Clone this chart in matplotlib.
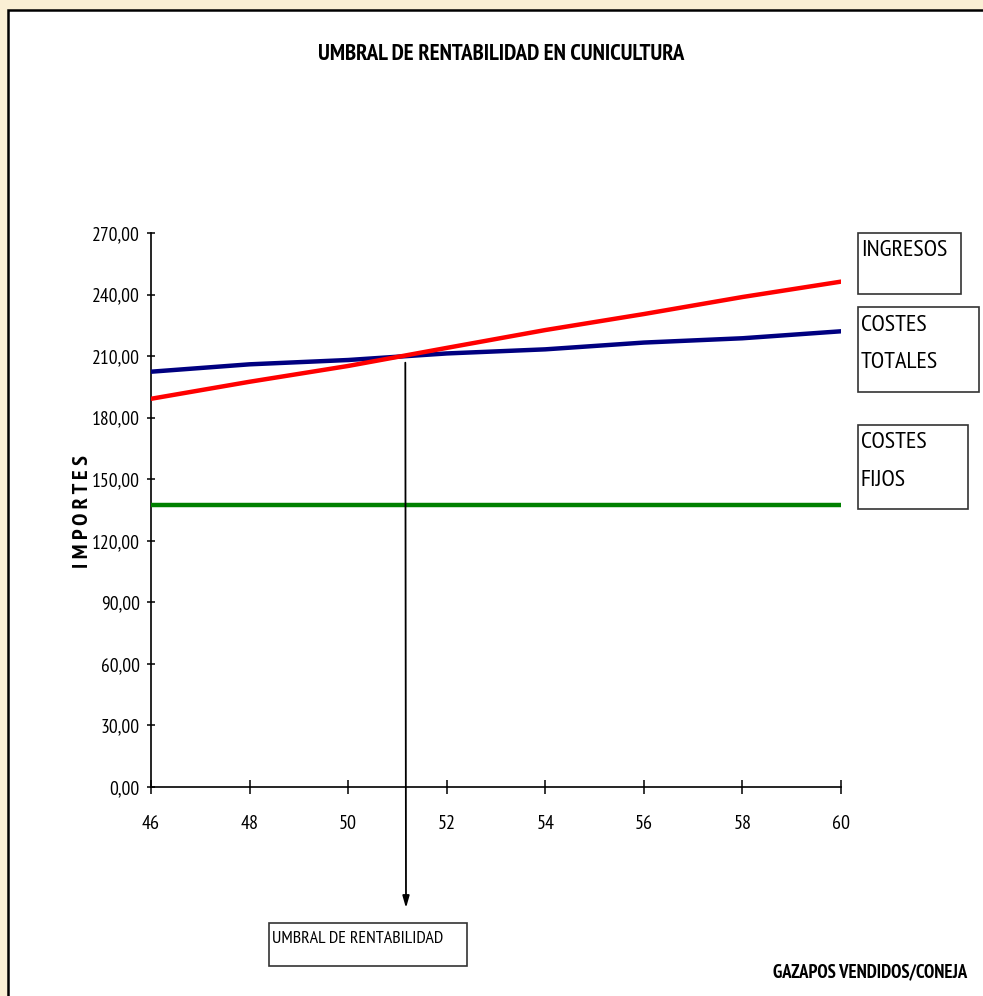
import matplotlib
matplotlib.use("Agg")
import matplotlib.pyplot as plt
from matplotlib import font_manager
from matplotlib.patches import Rectangle

# ---- data ----
gazapos = [46, 48, 50, 52, 54, 56, 58, 60]
ingresos = [189.2, 197.5, 205.2, 214.0, 222.7, 230.5, 238.8, 246.3]
costes_totales = [202.4, 206.0, 208.1, 211.3, 213.3, 216.6, 218.7, 222.1]
costes_fijos = [137.2, 137.2, 137.2, 137.2, 137.2, 137.2, 137.2, 137.2]
umbral_x = 51.16
umbral_y = 206.8
y_ticks = [0, 30, 60, 90, 120, 150, 180, 210, 240, 270]
x_ticks = [46, 48, 50, 52, 54, 56, 58, 60]

names = {f.name for f in font_manager.fontManager.ttflist}
FONT = "Liberation Sans"
for cand in ["PT Sans Narrow", "Roboto Condensed", "Barlow Semi Condensed", "Liberation Sans"]:
    if cand in names:
        FONT = cand
        break
plt.rcParams["font.family"] = [FONT, "DejaVu Sans"]

W, H = 983, 996
fig = plt.figure(figsize=(W / 100, H / 100), dpi=100)
fig.patch.set_facecolor("#FAEFD4")

def fx(px):
    return px / W

def fy(py):
    return 1 - py / H

# white chart area with black top/left border
fig.patches.append(Rectangle((fx(8), fy(1100)), fx(1200), fy(10) - fy(1100),
                             transform=fig.transFigure, facecolor="white",
                             edgecolor="black", linewidth=1.8, zorder=-10))

ax = fig.add_axes([fx(151), fy(787), fx(841) - fx(151), fy(233) - fy(787)])
ax.set_facecolor("none")
ax.set_zorder(1)
ax.plot(gazapos, costes_fijos, color="#008000", lw=3.2, solid_capstyle="round", zorder=3)
ax.plot(gazapos, costes_totales, color="#000080", lw=3.2, solid_capstyle="round", zorder=3)
ax.plot(gazapos, ingresos, color="#FF0000", lw=3.2, solid_capstyle="round", zorder=4)

ax.set_xlim(46, 60)
ax.set_ylim(0, 270)
ax.set_xticks(x_ticks)
ax.set_xticklabels([str(v) for v in x_ticks])
ax.set_yticks(y_ticks)
ax.set_yticklabels([f"{v:.2f}".replace(".", ",") for v in y_ticks])
for s in ("top", "right"):
    ax.spines[s].set_visible(False)
for s in ("left", "bottom"):
    ax.spines[s].set_linewidth(1.2)
ax.tick_params(axis="x", direction="inout", length=10, width=1.1, labelsize=14.5, pad=15)
ax.tick_params(axis="y", direction="inout", length=6, width=1.1, labelsize=14, pad=5)

# arrow from the break-even point down to the label box
ax.annotate("", xy=(fx(406), fy(908)), xycoords="figure fraction",
            xytext=(umbral_x, umbral_y), textcoords="data",
            arrowprops=dict(arrowstyle="-|>,head_length=0.7,head_width=0.2",
                            color="black", lw=1.3, shrinkA=0, shrinkB=0),
            annotation_clip=False)

# title and axis labels
fig.text(fx(501), fy(54), "UMBRAL DE RENTABILIDAD EN CUNICULTURA", ha="center", va="center",
         fontsize=16.5, fontweight="bold")
fig.text(fx(83), fy(512), "I M P O R T E S", rotation=90, ha="center", va="center",
         fontsize=16, fontweight="bold")
fig.text(fx(967), fy(972), "GAZAPOS VENDIDOS/CONEJA", ha="right", va="center",
         fontsize=13.4, fontweight="bold")

def box(x0, y0, x1, y1):
    fig.patches.append(Rectangle((fx(x0), fy(y1)), fx(x1) - fx(x0), fy(y0) - fy(y1),
                                 transform=fig.transFigure, facecolor="white",
                                 edgecolor="#333333", linewidth=1.2, zorder=2))

LS = 17.5
box(858, 233, 961, 294)
fig.text(fx(861), fy(251), "INGRESOS", ha="left", va="center", fontsize=LS)
box(858, 307, 979, 392)
fig.text(fx(861), fy(325), "COSTES", ha="left", va="center", fontsize=LS)
fig.text(fx(861), fy(363), "TOTALES", ha="left", va="center", fontsize=LS)
box(858, 425, 968, 509)
fig.text(fx(861), fy(443), "COSTES", ha="left", va="center", fontsize=LS)
fig.text(fx(861), fy(480), "FIJOS", ha="left", va="center", fontsize=LS)
box(269, 923, 467, 966)
fig.text(fx(272), fy(939), "UMBRAL DE RENTABILIDAD", ha="left", va="center", fontsize=13)

fig.savefig("out.png", dpi=100, facecolor=fig.get_facecolor())
